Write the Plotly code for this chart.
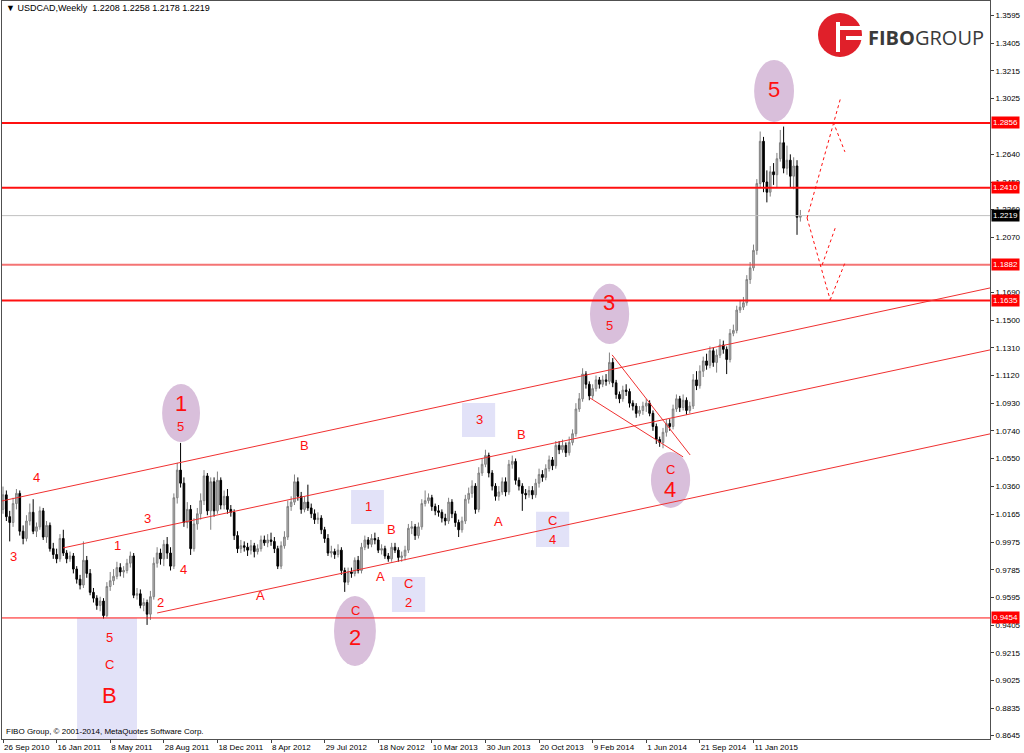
import pandas as pd
import plotly.graph_objects as go

start = pd.Timestamp("2010-09-26")

opens = [1.0200,1.0300,1.0150,1.0110,1.0240,1.0310,1.0050,1.0000,1.0120,1.0180,
1.0050,1.0080,1.0190,1.0010,1.0090,0.9930,0.9890,0.9860,1.0000,0.9900,
0.9860,0.9880,0.9790,0.9720,0.9680,0.9850,0.9760,0.9630,0.9590,0.9540,
0.9570,0.9470,0.9670,0.9710,0.9740,0.9800,0.9770,0.9780,0.9830,0.9880,
0.9610,0.9620,0.9540,0.9560,0.9480,0.9600,0.9830,0.9900,0.9860,0.9960,
0.9900,0.9810,1.0280,1.0470,1.0380,1.0110,1.0200,0.9930,1.0100,1.0170,
1.0260,1.0430,1.0190,1.0390,1.0190,1.0400,1.0230,1.0290,1.0200,1.0180,
1.0020,0.9930,0.9950,0.9940,0.9920,0.9950,0.9910,0.9930,0.9990,0.9970,
0.9990,0.9980,0.9930,0.9810,0.9950,1.0010,1.0220,1.0250,1.0390,1.0290,
1.0200,1.0250,1.0210,1.0170,1.0130,1.0140,1.0060,1.0000,0.9900,0.9910,
0.9890,0.9920,0.9780,0.9700,0.9770,0.9760,0.9850,0.9780,0.9940,0.9990,
0.9960,1.0000,0.9990,0.9920,0.9930,0.9880,0.9860,0.9940,0.9920,0.9870,
0.9880,0.9920,1.0070,1.0080,1.0020,1.0080,1.0240,1.0260,1.0280,1.0220,
1.0190,1.0180,1.0140,1.0120,1.0250,1.0170,1.0110,1.0060,1.0120,1.0270,
1.0310,1.0360,1.0200,1.0450,1.0510,1.0570,1.0450,1.0360,1.0290,1.0320,
1.0390,1.0320,1.0510,1.0530,1.0400,1.0360,1.0310,1.0300,1.0330,1.0300,
1.0380,1.0440,1.0420,1.0480,1.0540,1.0500,1.0640,1.0610,1.0640,1.0590,
1.0660,1.0720,1.0890,1.0960,1.1130,1.1060,1.0980,1.1030,1.1090,1.1060,
1.1090,1.1080,1.1210,1.1070,1.0990,1.0960,1.1020,1.1010,1.0930,1.0910,
1.0860,1.0880,1.0910,1.0930,1.0860,1.0770,1.0680,1.0660,1.0730,1.0790,
1.0770,1.0890,1.0960,1.0900,1.0950,1.0880,1.0910,1.1090,1.1050,1.1150,
1.1220,1.1190,1.1290,1.1210,1.1260,1.1330,1.1300,1.1230,1.1410,1.1430,
1.1570,1.1590,1.1620,1.1780,1.1860,1.1980,1.2440,1.2730,1.2450,1.2380,
1.2520,1.2500,1.2610,1.2720,1.2545,1.2600,1.2490,1.2560,1.2208]

closes = [1.0300,1.0150,1.0110,1.0240,1.0310,1.0050,1.0000,1.0120,1.0180,1.0050,
1.0080,1.0190,1.0010,1.0090,0.9930,0.9890,0.9860,1.0000,0.9900,0.9860,
0.9880,0.9790,0.9720,0.9680,0.9850,0.9760,0.9630,0.9590,0.9540,0.9570,
0.9470,0.9670,0.9710,0.9740,0.9800,0.9770,0.9780,0.9830,0.9880,0.9610,
0.9620,0.9540,0.9560,0.9480,0.9600,0.9830,0.9900,0.9860,0.9960,0.9900,
0.9810,1.0280,1.0470,1.0380,1.0110,1.0200,0.9930,1.0100,1.0170,1.0260,
1.0430,1.0190,1.0390,1.0190,1.0400,1.0230,1.0290,1.0200,1.0180,1.0020,
0.9930,0.9950,0.9940,0.9920,0.9950,0.9910,0.9930,0.9990,0.9970,0.9990,
0.9980,0.9930,0.9810,0.9950,1.0010,1.0220,1.0250,1.0390,1.0290,1.0200,
1.0250,1.0210,1.0170,1.0130,1.0140,1.0060,1.0000,0.9900,0.9910,0.9890,
0.9920,0.9780,0.9700,0.9770,0.9760,0.9850,0.9780,0.9940,0.9990,0.9960,
1.0000,0.9990,0.9920,0.9930,0.9880,0.9860,0.9940,0.9920,0.9870,0.9880,
0.9920,1.0070,1.0080,1.0020,1.0080,1.0240,1.0260,1.0280,1.0220,1.0190,
1.0180,1.0140,1.0120,1.0250,1.0170,1.0110,1.0060,1.0120,1.0270,1.0310,
1.0360,1.0200,1.0450,1.0510,1.0570,1.0450,1.0360,1.0290,1.0320,1.0390,
1.0320,1.0510,1.0530,1.0400,1.0360,1.0310,1.0300,1.0330,1.0300,1.0380,
1.0440,1.0420,1.0480,1.0540,1.0500,1.0640,1.0610,1.0640,1.0590,1.0660,
1.0720,1.0890,1.0960,1.1130,1.1060,1.0980,1.1030,1.1090,1.1060,1.1090,
1.1080,1.1210,1.1070,1.0990,1.0960,1.1020,1.1010,1.0930,1.0910,1.0860,
1.0880,1.0910,1.0930,1.0860,1.0770,1.0680,1.0660,1.0730,1.0790,1.0770,
1.0890,1.0960,1.0900,1.0950,1.0880,1.0910,1.1090,1.1050,1.1150,1.1220,
1.1190,1.1290,1.1210,1.1260,1.1330,1.1300,1.1230,1.1410,1.1430,1.1570,
1.1590,1.1620,1.1780,1.1860,1.1980,1.2440,1.2730,1.2450,1.2380,1.2520,
1.2500,1.2610,1.2720,1.2545,1.2600,1.2490,1.2560,1.2208,1.2219]

highs = [1.0357,1.0330,1.0190,1.0280,1.0340,1.0330,1.0090,1.0160,1.0240,1.0270,
1.0110,1.0220,1.0210,1.0120,1.0110,0.9970,0.9930,1.0030,1.0060,0.9920,
0.9910,0.9900,0.9810,0.9750,0.9980,0.9880,0.9790,0.9660,0.9610,0.9600,
0.9590,0.9700,0.9770,0.9790,0.9840,0.9830,0.9810,0.9860,0.9910,0.9900,
0.9660,0.9650,0.9590,0.9580,0.9640,0.9870,0.9940,0.9930,0.9990,1.0010,
0.9940,1.0310,1.0520,1.0657,1.0420,1.0250,1.0230,1.0140,1.0210,1.0310,
1.0470,1.0450,1.0420,1.0420,1.0460,1.0420,1.0330,1.0340,1.0230,1.0200,
1.0050,0.9990,0.9980,0.9970,0.9990,0.9970,0.9960,1.0020,1.0020,1.0030,
1.0040,1.0010,0.9950,0.9980,1.0050,1.0260,1.0290,1.0440,1.0420,1.0320,
1.0290,1.0370,1.0240,1.0200,1.0180,1.0160,1.0080,1.0030,0.9950,0.9930,
0.9960,0.9940,0.9800,0.9800,0.9800,0.9870,0.9880,0.9970,1.0020,1.0010,
1.0030,1.0040,1.0010,0.9960,0.9950,0.9900,0.9970,0.9970,0.9940,0.9910,
0.9950,1.0100,1.0120,1.0100,1.0110,1.0270,1.0330,1.0310,1.0300,1.0240,
1.0230,1.0200,1.0170,1.0280,1.0270,1.0190,1.0130,1.0150,1.0300,1.0350,
1.0400,1.0380,1.0490,1.0550,1.0610,1.0590,1.0470,1.0380,1.0360,1.0420,
1.0420,1.0540,1.0570,1.0550,1.0420,1.0380,1.0340,1.0360,1.0360,1.0410,
1.0480,1.0470,1.0510,1.0570,1.0560,1.0670,1.0670,1.0680,1.0660,1.0700,
1.0750,1.0930,1.1000,1.1170,1.1150,1.1080,1.1060,1.1120,1.1110,1.1120,
1.1130,1.1278,1.1240,1.1090,1.1010,1.1050,1.1060,1.1030,1.0950,1.0930,
1.0910,1.0940,1.0960,1.0950,1.0880,1.0790,1.0700,1.0760,1.0820,1.0820,
1.0920,1.0990,1.0980,1.0990,1.0970,1.0940,1.1130,1.1150,1.1190,1.1250,
1.1270,1.1320,1.1310,1.1300,1.1370,1.1360,1.1320,1.1440,1.1470,1.1600,
1.1640,1.1660,1.1810,1.1900,1.2020,1.2470,1.2797,1.2760,1.2530,1.2560,
1.2580,1.2650,1.2808,1.2831,1.2700,1.2640,1.2620,1.2600,1.2258]

lows = [1.0170,1.0120,0.9980,1.0080,1.0200,1.0020,0.9960,0.9980,1.0090,1.0030,
1.0010,1.0060,0.9990,0.9970,0.9910,0.9860,0.9830,0.9840,0.9880,0.9830,
0.9840,0.9760,0.9690,0.9650,0.9660,0.9730,0.9610,0.9560,0.9510,0.9500,
0.9450,0.9460,0.9640,0.9680,0.9720,0.9740,0.9730,0.9760,0.9800,0.9590,
0.9580,0.9520,0.9500,0.9406,0.9440,0.9580,0.9800,0.9820,0.9810,0.9860,
0.9780,0.9790,1.0240,1.0350,1.0080,1.0070,0.9887,0.9910,1.0060,1.0130,
1.0230,1.0160,1.0060,1.0150,1.0170,1.0200,1.0200,1.0170,1.0150,0.9990,
0.9900,0.9900,0.9910,0.9880,0.9890,0.9870,0.9890,0.9910,0.9950,0.9940,
0.9950,0.9900,0.9790,0.9790,0.9930,0.9990,1.0190,1.0230,1.0260,1.0170,
1.0180,1.0190,1.0140,1.0100,1.0100,1.0030,0.9970,0.9880,0.9870,0.9860,
0.9870,0.9750,0.9633,0.9680,0.9730,0.9740,0.9760,0.9760,0.9920,0.9930,
0.9940,0.9960,0.9900,0.9890,0.9860,0.9840,0.9840,0.9900,0.9840,0.9840,
0.9850,0.9900,1.0030,0.9990,1.0000,1.0060,1.0220,1.0240,1.0190,1.0160,
1.0150,1.0110,1.0090,1.0100,1.0140,1.0080,1.0010,1.0040,1.0100,1.0240,
1.0280,1.0170,1.0180,1.0430,1.0490,1.0420,1.0330,1.0260,1.0260,1.0300,
1.0290,1.0300,1.0480,1.0370,1.0330,1.0190,1.0270,1.0280,1.0270,1.0280,
1.0350,1.0390,1.0400,1.0460,1.0470,1.0480,1.0580,1.0590,1.0560,1.0570,
1.0640,1.0700,1.0870,1.0940,1.1030,1.0950,1.0960,1.1010,1.1030,1.1040,
1.1050,1.1060,1.1040,1.0960,1.0930,1.0940,1.0980,1.0900,1.0880,1.0830,
1.0840,1.0850,1.0870,1.0840,1.0740,1.0650,1.0630,1.0620,1.0700,1.0740,
1.0750,1.0870,1.0870,1.0880,1.0850,1.0860,1.0890,1.1020,1.1030,1.1110,
1.1160,1.1170,1.1180,1.1140,1.1240,1.1270,1.1130,1.1210,1.1390,1.1410,
1.1550,1.1570,1.1600,1.1750,1.1840,1.1950,1.2410,1.2380,1.2310,1.2350,
1.2430,1.2410,1.2590,1.2510,1.2500,1.2410,1.2400,1.2087,1.2178]

x_tick_text = ["26 Sep 2010", "16 Jan 2011", "8 May 2011", "28 Aug 2011", "18 Dec 2011",
               "8 Apr 2012", "29 Jul 2012", "18 Nov 2012", "10 Mar 2013", "30 Jun 2013",
               "20 Oct 2013", "9 Feb 2014", "1 Jun 2014", "21 Sep 2014", "11 Jan 2015"]
y_ticks = [1.3595, 1.3405, 1.3215, 1.3025, 1.2640, 1.2450, 1.2260, 1.2070,
           1.1690, 1.1500, 1.1310, 1.1120, 1.0930, 1.0740, 1.0550, 1.0360, 1.0165, 0.9975,
           0.9785, 0.9595, 0.9405, 0.9215, 0.9025, 0.8835, 0.8645]
levels = [1.2856, 1.2410, 1.1882, 1.1635, 0.9454]
last_price = 1.2219
header = "USDCAD,Weekly  1.2208 1.2258 1.2178 1.2219"

dates = pd.date_range(start, periods=len(closes), freq="7D")
tick_dates = [dates[i] for i in range(0, 16 * len(x_tick_text), 16)]

def wk(i):
    return start + pd.Timedelta(days=7 * i)

def px(x):
    return (x - 2) / 988.0

def py(y):
    return (739 - y) / 738.0

RED = "#ff1010"
fig = go.Figure()
fig.add_trace(go.Candlestick(
    x=dates, open=opens, high=highs, low=lows, close=closes,
    increasing=dict(line=dict(color="#808080", width=1), fillcolor="#b8b8b8"),
    decreasing=dict(line=dict(color="#000000", width=1), fillcolor="#000000"),
    whiskerwidth=0, hoverinfo="skip", showlegend=False))

shapes = []
for (i0, i1, p0, p1) in [(47.5, 58.8, 1.0664, 1.1062), (98.8, 111.3, 0.9124, 0.9605),
                         (175.2, 186.9, 1.1337, 1.1750), (193.4, 205.1, 1.0210, 1.0595),
                         (224.2, 236.1, 1.2863, 1.3289)]:
    shapes.append(dict(type="circle", xref="x", yref="y", x0=wk(i0), x1=wk(i1), y0=p0, y1=p1,
                       fillcolor="#d9bfdb", line=dict(width=0), layer="below"))
for (i0, i1, p0, p1) in [(22.1, 40.0, 0.8622, 0.9454), (137.0, 146.9, 1.0698, 1.0932),
                         (103.9, 113.7, 1.0100, 1.0334), (116.1, 126.0, 0.9495, 0.9736),
                         (159.1, 169.0, 0.9942, 1.0183)]:
    shapes.append(dict(type="rect", xref="x", yref="y", x0=wk(i0), x1=wk(i1), y0=p0, y1=p1,
                       fillcolor="#e2e2f8", line=dict(width=0), layer="below"))
shapes.append(dict(type="line", xref="paper", x0=0, x1=1, yref="y", y0=last_price, y1=last_price,
                   line=dict(color="#c0c0c0", width=1)))
lw = {1.2856: 2, 1.2410: 2, 1.1882: 2, 1.1635: 2, 0.9454: 1}
lc = {1.2856: RED, 1.2410: RED, 1.1882: "rgba(240,70,70,0.75)", 1.1635: RED, 0.9454: RED}
for lv in levels:
    shapes.append(dict(type="line", xref="paper", x0=0, x1=1, yref="y", y0=lv, y1=lv,
                       line=dict(color=lc[lv], width=lw[lv])))
for (i0, p0, i1, p1) in [(-0.3, 1.0258, 294.6, 1.1722), (17.9, 0.9935, 294.6, 1.1296),
                         (46.0, 0.9488, 294.6, 1.0719),
                         (181.8, 1.1262, 205.1, 1.0574), (175.2, 1.0966, 203.0, 1.0561)]:
    shapes.append(dict(type="line", xref="x", yref="y", x0=wk(i0), x1=wk(i1), y0=p0, y1=p1,
                       line=dict(color="#f03030", width=1)))
for (i0, p0, i1, p1) in [(240.0, 1.2203, 250.1, 1.3035), (247.8, 1.2863, 251.3, 1.2657),
                         (240.0, 1.2203, 246.9, 1.1640), (244.5, 1.1880, 248.4, 1.2134),
                         (246.9, 1.1640, 251.3, 1.1894)]:
    shapes.append(dict(type="line", xref="x", yref="y", x0=wk(i0), x1=wk(i1), y0=p0, y1=p1,
                       line=dict(color=RED, width=1, dash="dot")))
# logo
shapes.append(dict(type="circle", xref="paper", yref="paper", x0=px(818), x1=px(862),
                   y0=py(57), y1=py(13), fillcolor="#e0202a", line=dict(width=0)))
shapes.append(dict(type="rect", xref="paper", yref="paper", x0=px(836), x1=px(840),
                   y0=py(52), y1=py(22), fillcolor="white", line=dict(width=0)))
shapes.append(dict(type="rect", xref="paper", yref="paper", x0=px(840), x1=px(863),
                   y0=py(30), y1=py(26), fillcolor="white", line=dict(width=0)))
shapes.append(dict(type="rect", xref="paper", yref="paper", x0=px(846), x1=px(863),
                   y0=py(40), y1=py(36), fillcolor="white", line=dict(width=0)))

ann = []
def lab(i, p, t, size=13):
    ann.append(dict(x=wk(i), y=p, xref="x", yref="y", text=t, showarrow=False,
                    font=dict(family="Liberation Sans", size=size, color=RED)))

for (i, p, t) in [(9.85, 1.0417, "4"), (3.0, 0.9874, "3"), (43.0, 1.0135, "3"), (34.3, 0.9951, "1"),
                  (54.0, 0.9784, "4"), (46.9, 0.9557, "2"), (77.0, 0.9605, "A"), (89.9, 1.0636, "B"),
                  (116.1, 1.0059, "B"), (112.8, 0.9736, "A"), (147.8, 1.0114, "A"), (154.9, 1.0712, "B"),
                  (142.1, 1.0815, "3"), (109.0, 1.0217, "1"), (120.9, 0.9688, "C"), (120.9, 0.9557, "2"),
                  (163.9, 1.0121, "C"), (163.9, 0.9990, "4"), (31.9, 0.9323, "5"), (31.9, 0.9131, "C"),
                  (53.1, 1.0767, "5"), (105.1, 0.9502, "C"), (180.9, 1.1461, "5"), (199.1, 1.0471, "C")]:
    lab(i, p, t)
for (i, p, t) in [(31.9, 0.8918, "B"), (53.1, 1.0925, "1"), (105.1, 0.9323, "2"),
                  (180.9, 1.1619, "3"), (199.1, 1.0334, "4"), (230.1, 1.3083, "5")]:
    lab(i, p, t, size=22)

for lv in levels:
    ann.append(dict(x=1, xref="paper", xanchor="left", xshift=1, y=lv, yref="y", yanchor="middle",
                    text=f"{lv:.4f}", showarrow=False, bgcolor="#ff0000", borderpad=1,
                    font=dict(family="Liberation Sans", size=8, color="white")))
ann.append(dict(x=1, xref="paper", xanchor="left", xshift=1, y=last_price, yref="y", yanchor="middle",
                text=f"{last_price:.4f}", showarrow=False, bgcolor="#000000", borderpad=1,
                font=dict(family="Liberation Sans", size=8, color="white")))
ann.append(dict(x=px(4), y=py(8), xref="paper", yref="paper", xanchor="left", yanchor="middle",
                text="\u25bc " + header, showarrow=False,
                font=dict(family="Liberation Sans", size=9, color="#000000")))
ann.append(dict(x=px(4), y=py(731), xref="paper", yref="paper", xanchor="left", yanchor="middle",
                text="FIBO Group, \u00a9 2001-2014, MetaQuotes Software Corp.", showarrow=False,
                font=dict(family="Liberation Sans", size=8, color="#000000")))
ann.append(dict(x=px(866), y=py(37), xref="paper", yref="paper", xanchor="left", yanchor="middle",
                text="<b>FIBO</b>GROUP", showarrow=False,
                font=dict(family="Open Sans", size=20, color="#3a3a3a")))

fig.update_layout(
    width=1024, height=753, margin=dict(l=2, r=34, t=1, b=14, autoexpand=False),
    paper_bgcolor="white", plot_bgcolor="white", showlegend=False,
    shapes=shapes, annotations=ann,
    xaxis=dict(type="date", range=[wk(-0.3), wk(294.6)], rangeslider=dict(visible=False),
               tickvals=tick_dates, ticktext=x_tick_text, ticks="outside", ticklen=3,
               tickangle=0, automargin=False,
               tickcolor="#404040", ticklabelposition="outside right", showgrid=False,
               showline=True, linecolor="#505050", linewidth=1, mirror=True, zeroline=False,
               tickfont=dict(family="Liberation Sans", size=8, color="#000000")),
    yaxis=dict(side="right", range=[0.8622, 1.3694], tickvals=y_ticks, automargin=False,
               ticktext=[f"{v:.4f}" for v in y_ticks], ticks="outside", ticklen=3,
               tickcolor="#404040", showgrid=False, showline=True, linecolor="#505050",
               linewidth=1, mirror=True, zeroline=False,
               tickfont=dict(family="Liberation Sans", size=8, color="#000000")),
)
fig.write_html("out.html", config={"displayModeBar": False},
               post_script="document.body.style.margin='0';document.body.style.overflow='hidden';")
